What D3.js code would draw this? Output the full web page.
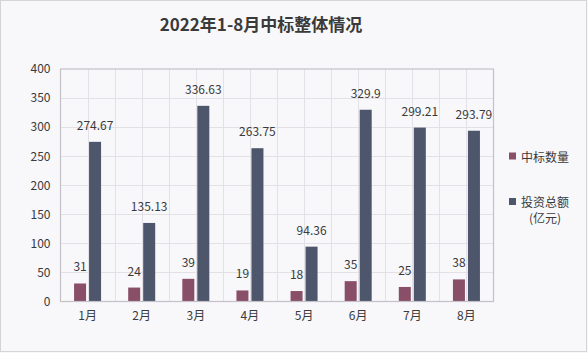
<!DOCTYPE html>
<html><head><meta charset="utf-8">
<script src="https://cdn.jsdelivr.net/npm/d3@7"></script>
<style>
html,body{margin:0;padding:0;background:#f8f7fa;}
svg{display:block;}
text{font-family:"Noto Sans CJK SC","Noto Sans",sans-serif;}
</style></head>
<body><svg id="c" width="588" height="353"></svg>
<script>
const months = ["1月","2月","3月","4月","5月","6月","7月","8月"];
const countValues = [31,24,39,19,18,35,25,38];
const amountValues = [274.67,135.13,336.63,263.75,94.36,329.9,299.21,293.79];
const yTicks = [0,50,100,150,200,250,300,350,400];
const seriesNames = ["中标数量","投资总额"];
const colors = ["#8a4f68","#4d566b"];

const svg = d3.select("#c");
svg.append("rect").attr("x",0.5).attr("y",0.5).attr("width",586).attr("height",351)
  .attr("fill","#f8f7fa").attr("stroke","#d4d4d4");

const L=60.5,R=493.5,T=69,B=301.5;
const x = d3.scaleBand().domain(months).range([L,R]);
const y = d3.scaleLinear().domain([0,400]).range([B,T]);

const g = svg.append("g");
g.selectAll(".hg").data(yTicks.slice(1,-1)).join("line")
  .attr("x1",L).attr("x2",R).attr("y1",d=>Math.round(y(d))+0.5).attr("y2",d=>Math.round(y(d))+0.5)
  .attr("stroke","#e3e1e6");
const vlines=[];
months.forEach((m,i)=>{ if(i>0) vlines.push(x(m)); vlines.push(x(m)+x.bandwidth()/2); });
g.selectAll(".vg").data(vlines).join("line")
  .attr("y1",T).attr("y2",B).attr("x1",d=>Math.round(d)+0.5).attr("x2",d=>Math.round(d)+0.5)
  .attr("stroke","#e3e1e6");

const bw=12;
const series=[countValues,amountValues];
series.forEach((vals,si)=>{
  const off = si===0 ? -13.5 : 1.5;
  g.selectAll(".b"+si).data(vals).join("rect")
    .attr("x",(d,i)=>x(months[i])+x.bandwidth()/2+off)
    .attr("width",bw)
    .attr("y",d=>y(d)).attr("height",d=>B-y(d))
    .attr("fill",colors[si]);
  g.selectAll(".l"+si).data(vals).join("text")
    .attr("x",(d,i)=>x(months[i])+x.bandwidth()/2+off+bw/2)
    .attr("y",d=>y(d)-12)
    .attr("text-anchor","middle").attr("font-size",12).attr("fill","#3a3a3a")
    .text(d=>d);
});

svg.append("rect").attr("x",L).attr("y",T).attr("width",R-L).attr("height",B-T)
  .attr("fill","none").attr("stroke","#c4c2c8").attr("stroke-width",1.2);

const yAxis = d3.axisLeft(y).tickValues(yTicks).tickSize(0).tickPadding(10);
const ya = svg.append("g").attr("transform",`translate(${L},0)`).call(yAxis);
ya.select(".domain").remove();
ya.selectAll("text").attr("font-size",12).attr("fill","#3a3a3a").attr("font-family",'"Noto Sans CJK SC",sans-serif');

const xAxis = d3.axisBottom(x).tickSize(0).tickPadding(10);
const xa = svg.append("g").attr("transform",`translate(0,${B})`).call(xAxis);
xa.select(".domain").remove();
xa.selectAll("text").attr("font-size",12).attr("fill","#3a3a3a").attr("font-family",'"Noto Sans CJK SC",sans-serif');

svg.append("text").attr("x",261).attr("y",23).attr("dominant-baseline","central")
  .attr("text-anchor","middle").attr("font-size",17).attr("font-weight","bold").attr("fill","#3a3a3a")
  .text("2022年1-8月中标整体情况");

const lg = svg.append("g");
lg.append("rect").attr("x",509).attr("y",152.5).attr("width",7).attr("height",7).attr("fill",colors[0]);
lg.append("text").attr("x",521).attr("y",156).attr("dominant-baseline","central").attr("font-size",12).attr("fill","#3a3a3a").text(seriesNames[0]);
lg.append("rect").attr("x",509).attr("y",198).attr("width",7).attr("height",7).attr("fill",colors[1]);
lg.append("text").attr("x",545).attr("y",201).attr("text-anchor","middle").attr("dominant-baseline","central").attr("font-size",12).attr("fill","#3a3a3a").text(seriesNames[1]);
lg.append("text").attr("x",545).attr("y",217).attr("text-anchor","middle").attr("dominant-baseline","central").attr("font-size",12).attr("fill","#3a3a3a").text("(亿元)");
</script></body></html>
